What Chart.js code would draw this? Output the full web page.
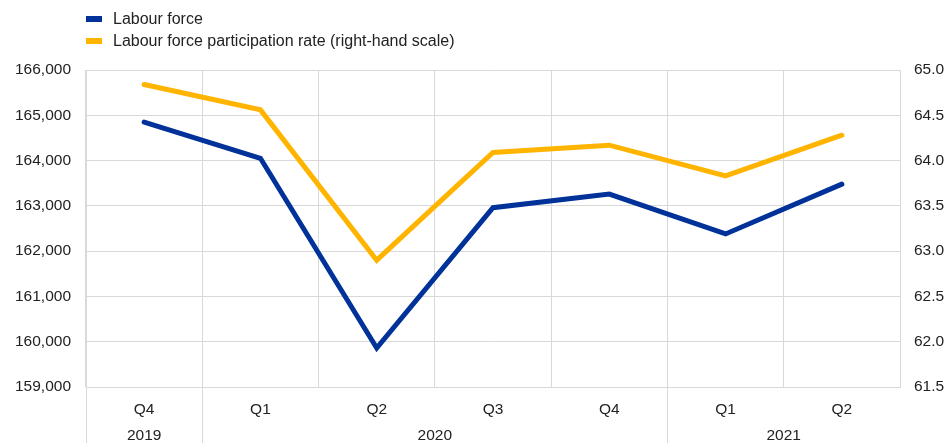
<!DOCTYPE html>
<html>
<head>
<meta charset="utf-8">
<script src="https://cdn.jsdelivr.net/npm/chart.js@4"></script>
<style>
  html, body { margin: 0; padding: 0; background: #fff; }
  #wrap { width: 947px; height: 443px; position: relative; }
</style>
</head>
<body>
<div id="wrap"><canvas id="chart"></canvas></div>
<script>
const quarters = ['Q4', 'Q1', 'Q2', 'Q3', 'Q4', 'Q1', 'Q2'];
const years = ['2019', '2020', '2021'];
const yearSpans = [1, 4, 2];
const labourForce = [164850, 164050, 159860, 162960, 163260, 162380, 163480];
const participationRate = [64.84, 64.56, 62.9, 64.09, 64.17, 63.83, 64.28];

const FONT = 'Liberation Sans, Arial, sans-serif';
const gridColor = '#d9d9d9';
const tickSize = 15.5;

// legend drawn top-left, vertical list
const legendPlugin = {
  id: 'sideLegend',
  afterDraw(chart) {
    const c = chart.ctx;
    c.save();
    c.font = '16px ' + FONT;
    c.textBaseline = 'middle';
    chart.data.datasets.forEach((ds, i) => {
      const y = 19 + i * 22;
      c.fillStyle = ds.borderColor;
      c.fillRect(86, y - 3, 16, 6);
      c.fillStyle = '#222';
      c.fillText(ds.label, 113, y + 1);
    });
    c.restore();
  }
};

// year row under the quarter labels, plus separators
const yearPlugin = {
  id: 'yearRow',
  afterDraw(chart) {
    const c = chart.ctx;
    const x = chart.scales.x;
    const area = chart.chartArea;
    const half = (x.getPixelForValue(1) - x.getPixelForValue(0)) / 2;
    c.save();
    c.strokeStyle = gridColor;
    c.lineWidth = 1;
    c.font = tickSize + 'px ' + FONT;
    c.fillStyle = '#222';
    c.textAlign = 'center';
    c.textBaseline = 'middle';
    let idx = 0;
    years.forEach((yr, i) => {
      const left = x.getPixelForValue(idx) - half;
      const right = x.getPixelForValue(idx + yearSpans[i] - 1) + half;
      const lx = Math.round(left) + 0.5;
      c.beginPath();
      c.moveTo(lx, area.bottom);
      c.lineTo(lx, chart.height);
      c.stroke();
      c.fillText(yr, (left + right) / 2, 436);
      idx += yearSpans[i];
    });
    c.restore();
  }
};

new Chart(document.getElementById('chart'), {
  type: 'line',
  data: {
    labels: quarters,
    datasets: [{
      label: 'Labour force',
      data: labourForce,
      borderColor: '#003299',
      backgroundColor: '#003299',
      borderWidth: 5,
      borderCapStyle: 'round',
      pointRadius: 0,
      tension: 0,
      yAxisID: 'y'
    }, {
      label: 'Labour force participation rate (right-hand scale)',
      data: participationRate,
      borderColor: '#ffb400',
      backgroundColor: '#ffb400',
      borderWidth: 5,
      borderCapStyle: 'round',
      pointRadius: 0,
      tension: 0,
      yAxisID: 'y1'
    }]
  },
  options: {
    responsive: true,
    maintainAspectRatio: false,
    animation: false,
    layout: { padding: { top: 70, left: 0, right: 0, bottom: 0 } },
    plugins: {
      legend: { display: false },
      tooltip: { enabled: false }
    },
    scales: {
      x: {
        offset: true,
        grid: { offset: true, color: gridColor, drawTicks: false },
        border: { color: gridColor },
        ticks: { color: '#222', font: { family: FONT, size: tickSize }, padding: 13, maxRotation: 0 },
        afterFit(s) { s.height = 56; }
      },
      y: {
        position: 'left',
        min: 159000,
        max: 166000,
        grid: { color: gridColor, drawTicks: false },
        border: { color: gridColor },
        ticks: {
          stepSize: 1000,
          color: '#222',
          font: { family: FONT, size: tickSize },
          padding: 15,
          callback: v => v.toLocaleString('en-US')
        },
        afterFit(s) { s.width = 86; }
      },
      y1: {
        position: 'right',
        min: 61.5,
        max: 65,
        grid: { drawOnChartArea: false, drawTicks: false },
        border: { display: false },
        ticks: {
          stepSize: 0.5,
          color: '#222',
          font: { family: FONT, size: tickSize },
          padding: 14,
          callback: v => v.toFixed(1)
        },
        afterFit(s) { s.width = 47; }
      }
    }
  },
  plugins: [legendPlugin, yearPlugin]
});
</script>
</body>
</html>
